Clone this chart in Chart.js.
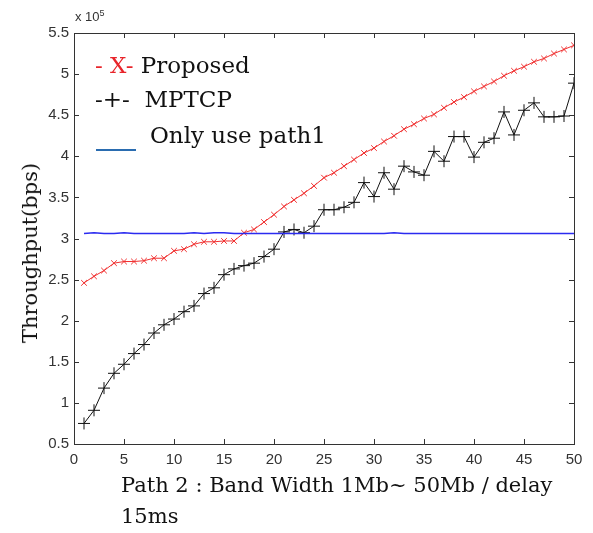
<!DOCTYPE html>
<html>
<head>
<meta charset="utf-8">
<script src="https://cdn.jsdelivr.net/npm/chart.js@4"></script>
<style>
  body { margin: 0; background: #fff; }
  #wrap { position: relative; width: 593px; height: 533px; }
  .t { position: absolute; font-family: 'DejaVu Serif', serif; color: #111; white-space: nowrap; }
</style>
</head>
<body>
<div id="wrap">
  <canvas id="myChart" width="593" height="533"></canvas>
  <div class="t" style="left:75px;top:8px;font-family:'Liberation Sans',sans-serif;font-size:13px;color:#333;">x 10<sup style="font-size:9px;">5</sup></div>
  <div class="t" style="left:95px;top:52px;font-size:23px;"><span style="color:#e8242a;">- X-</span> Proposed</div>
  <div class="t" style="left:95px;top:86px;font-size:23px;">-+-&nbsp;&nbsp;MPTCP</div>
  <div style="position:absolute;left:96px;top:149px;width:40px;height:2px;background:#2a6cb0;"></div>
  <div class="t" style="left:150px;top:122px;font-size:23px;">Only use path1</div>
  <div class="t" style="left:14px;top:253px;font-size:21px;transform:translate(-50%,-50%) rotate(-90deg);transform-origin:center;margin-left:16px;">Throughput(bps)</div>
  <div class="t" style="left:121px;top:470px;font-size:21px;line-height:31px;">Path 2 : Band Width 1Mb~ 50Mb / delay<br>15ms</div>
</div>
<script>
// bandwidth of path 2 (Mb)
const bandwidth = [1,2,3,4,5,6,7,8,9,10,11,12,13,14,15,16,17,18,19,20,21,22,23,24,25,
  26,27,28,29,30,31,32,33,34,35,36,37,38,39,40,41,42,43,44,45,46,47,48,49,50];

// throughput, x 10^5 bps
const proposed = [2.46,2.54,2.61,2.70,2.72,2.72,2.73,2.76,2.76,2.85,2.87,2.93,2.96,2.96,2.97,2.97,3.07,3.11,3.20,3.29,
  3.39,3.47,3.55,3.64,3.74,3.80,3.88,3.96,4.04,4.10,4.18,4.25,4.33,4.39,4.46,4.51,4.59,4.66,4.72,4.79,
  4.85,4.91,4.98,5.04,5.09,5.15,5.19,5.25,5.30,5.35];
const mptcp = [0.75,0.91,1.18,1.36,1.47,1.60,1.71,1.85,1.95,2.02,2.11,2.18,2.33,2.40,2.56,2.63,2.67,2.70,2.78,2.87,
  3.08,3.11,3.07,3.15,3.35,3.35,3.38,3.44,3.68,3.51,3.80,3.60,3.88,3.81,3.77,4.06,3.94,4.24,4.24,3.99,
  4.17,4.22,4.54,4.26,4.56,4.65,4.48,4.48,4.49,4.89];
const path1 = [3.06,3.07,3.06,3.06,3.07,3.06,3.06,3.06,3.06,3.06,3.06,3.07,3.06,3.07,3.07,3.06,3.06,3.06,3.06,3.06,
  3.06,3.06,3.06,3.06,3.06,3.06,3.06,3.06,3.06,3.06,3.06,3.07,3.06,3.06,3.06,3.06,3.06,3.06,3.06,3.06,
  3.06,3.06,3.06,3.06,3.06,3.06,3.06,3.06,3.06,3.06];

function pts(vals) {
  return vals.map((v, i) => ({ x: bandwidth[i], y: v }));
}

// MATLAB style box with inward ticks
const boxTicks = {
  id: 'boxTicks',
  afterDatasetsDraw(chart) {
    const c = chart.ctx;
    const a = chart.chartArea;
    const sx = chart.scales.x, sy = chart.scales.y;
    c.save();
    c.strokeStyle = '#333';
    c.lineWidth = 1;
    c.beginPath();
    c.rect(Math.round(a.left) + 0.5, Math.round(a.top) + 0.5, Math.round(a.right - a.left), Math.round(a.bottom - a.top));
    sx.ticks.forEach(t => {
      const px = Math.round(sx.getPixelForValue(t.value)) + 0.5;
      c.moveTo(px, a.bottom); c.lineTo(px, a.bottom - 5);
      c.moveTo(px, a.top); c.lineTo(px, a.top + 5);
    });
    sy.ticks.forEach(t => {
      const py = Math.round(sy.getPixelForValue(t.value)) + 0.5;
      c.moveTo(a.left, py); c.lineTo(a.left + 5, py);
      c.moveTo(a.right, py); c.lineTo(a.right - 5, py);
    });
    c.stroke();
    c.restore();
  }
};

var chart = new Chart(document.getElementById('myChart'), {
  type: 'line',
  data: {
    datasets: [{
      label: 'Only use path1',
      data: pts(path1),
      borderColor: '#2b2bf0',
      borderWidth: 1.5,
      pointRadius: 0
    }, {
      label: 'MPTCP',
      data: pts(mptcp),
      borderColor: '#111',
      borderWidth: 1,
      pointStyle: 'cross',
      pointRadius: 6,
      pointBorderColor: '#111',
      pointBorderWidth: 1
    }, {
      label: 'Proposed',
      data: pts(proposed),
      borderColor: '#f03030',
      borderWidth: 1,
      pointStyle: 'crossRot',
      pointRadius: 4,
      pointBorderColor: '#f03030',
      pointBorderWidth: 1
    }]
  },
  options: {
    responsive: false,
    animation: false,
    layout: { padding: { top: 33, right: 19, left: 0, bottom: 0 } },
    plugins: { legend: { display: false }, tooltip: { enabled: false } },
    scales: {
      x: {
        type: 'linear', min: 0, max: 50,
        ticks: { stepSize: 5, color: '#333', padding: 7, maxRotation: 0, font: { family: 'Liberation Sans', size: 15 } },
        grid: { display: false, drawTicks: false },
        border: { display: true, color: '#333' },
        afterFit: s => { s.height = 89; }
      },
      y: {
        min: 0.5, max: 5.5,
        ticks: { stepSize: 0.5, color: '#333', padding: 5, font: { family: 'Liberation Sans', size: 15 },
          callback: v => String(v) },
        grid: { display: false, drawTicks: false },
        border: { display: true, color: '#333' },
        afterFit: s => { s.width = 74; }
      }
    }
  },
  plugins: [boxTicks]
});
</script>
</body>
</html>
